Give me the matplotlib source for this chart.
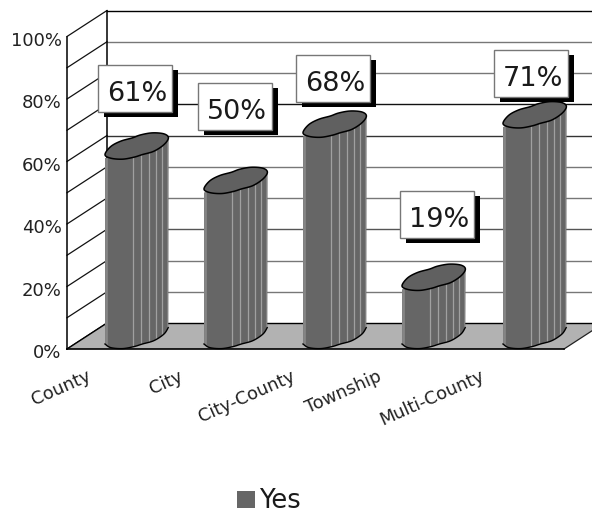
import numpy as np
import matplotlib
matplotlib.use("Agg")
import matplotlib.pyplot as plt
from matplotlib.patches import Polygon, Rectangle, Patch
from matplotlib.transforms import ScaledTranslation

plt.rcParams['font.family'] = ['DejaVu Sans']

categorias = ['County', 'City', 'City-County', 'Township', 'Multi-County']
valores = [61, 50, 68, 19, 71]
ticks_y = [0, 20, 40, 60, 80, 100]
serie = 'Yes'

# layout, x in pixels, y in percent
PX = 3.125          # pixels per percent
FONDO = 26 / PX     # depth of the floor and walls
X_FRENTE = 67
X_FONDO = 107
bar_left = [105, 204, 303, 402, 503]
bar_ancho = 64
box_x = [98, 198, 296, 400, 494]
box_top = [65, 83, 55, 191, 50]
label_x = [86, 178, 291, 377, 480]

# outline of the column section, relative to its left edge and level
SECCION_ABAJO = [(0, -2.3), (5.7, 1.3), (17.4, 2.3), (29, 0.3), (37.4, -2.3),
                 (49, -5.7), (59, -12.3), (63.4, -19)]
SECCION_ARRIBA = [(59, -23), (47.4, -24), (35.7, -22), (27.4, -19), (15.7, -15.7), (5.7, -10.3)]
RAYAS = [28.3, 36, 44, 51.3, 57.3]


def suavizar(puntos, cerrado=False, n=12):
    p = np.array(puntos, dtype=float)
    if cerrado:
        p = np.vstack([p[-1], p, p[0], p[1]])
    else:
        p = np.vstack([p[0], p, p[-1]])
    salida = []
    for i in range(1, len(p) - 2):
        for t in np.linspace(0, 1, n, endpoint=False):
            salida.append(0.5 * (2 * p[i] + (p[i + 1] - p[i - 1]) * t
                                 + (2 * p[i - 1] - 5 * p[i] + 4 * p[i + 1] - p[i + 2]) * t ** 2
                                 + (3 * p[i] - p[i - 1] - 3 * p[i + 1] + p[i + 2]) * t ** 3))
    return np.array(salida)


def a_datos(curva, x0, nivel, ajuste):
    # pixel offsets of a section to x pixels / y percent
    return np.column_stack([x0 + curva[:, 0], nivel - (curva[:, 1] + ajuste) / PX])


fig = plt.figure(figsize=(5.92, 5.14), dpi=100)
ax = fig.add_axes([0, 0, 1, 1])
ax.set_xlim(0, 592)
ax.set_ylim((349 - 514) / PX, 349 / PX)
ax.patch.set_visible(False)

# walls
colores_grid = {10: '#777777', 20: '#777777', 30: '#555555', 40: '#777777', 50: '#777777',
                60: '#333333', 70: '#111111', 80: '#777777', 90: '#777777', 100: '#000000'}
for v in range(0, 101, 10):
    ax.plot([X_FRENTE, X_FONDO], [v, v + FONDO], color='#111111', lw=0.9, zorder=1)
    if v > 0:
        ax.plot([X_FONDO, 592], [v + FONDO, v + FONDO], color=colores_grid[v], lw=1, zorder=1)
ax.plot([X_FONDO, X_FONDO], [FONDO, 100 + FONDO], color='black', lw=1.1, zorder=1)

# floor
ax.add_patch(Polygon([(X_FRENTE, 0), (X_FONDO, FONDO), (604, FONDO), (564, 0)],
                     facecolor='#b2b2b2', edgecolor='none', zorder=2))
ax.plot([X_FONDO, 604], [FONDO, FONDO], color='black', lw=1, zorder=2)
ax.plot([564, 604], [0, FONDO], color='#222222', lw=0.9, zorder=2)
ax.plot([X_FRENTE, X_FONDO], [0, FONDO], color='black', lw=1, zorder=2)

# columns
abajo = suavizar(SECCION_ABAJO)
seccion = suavizar(SECCION_ABAJO + SECCION_ARRIBA, cerrado=True)
for x0, v in zip(bar_left, valores):
    fondo = a_datos(abajo, x0, 0, -2.7)
    cuerpo = np.vstack([[(x0, v)], fondo, [(x0 + bar_ancho - 0.6, v + 19 / PX)]])
    parche = Polygon(cuerpo, facecolor='#666666', edgecolor='none', zorder=3)
    ax.add_patch(parche)
    for dx, color, ancho in [(1, '#858585', 2)] + [(r, '#a0a0a0', 0.9) for r in RAYAS] + [(62.5, '#858585', 2)]:
        raya, = ax.plot([x0 + dx, x0 + dx], [0, v + 10], color=color, lw=ancho, zorder=3.1)
        raya.set_clip_path(parche)
    ax.plot(fondo[:, 0], fondo[:, 1], color='black', lw=1, zorder=3.2)
    ax.add_patch(Polygon(a_datos(seccion, x0, v, -1.5), facecolor='#606060', edgecolor='black',
                         lw=1.1, zorder=3.3))

# value boxes
for x, top, v in zip(box_x, box_top, valores):
    y_top = (349 - top) / PX
    alto = 47 / PX
    ax.add_patch(Rectangle((x + 6, y_top - alto - 5 / PX), 74, alto, facecolor='black',
                           edgecolor='none', zorder=4))
    ax.add_patch(Rectangle((x, y_top - alto), 74, alto, facecolor='white', edgecolor='#777777',
                           lw=1, zorder=4.1))
    ax.text(x + 39, y_top - alto / 2 - 5 / PX, f'{v}%', fontsize=19.5, color='#1a1a1a',
            ha='center', va='center', zorder=4.2)

# axes
for lado in ['top', 'right']:
    ax.spines[lado].set_visible(False)
ax.spines['left'].set_position(('data', X_FRENTE))
ax.spines['left'].set_bounds(0, 100)
ax.spines['left'].set_linewidth(1.1)
ax.spines['left'].set_zorder(2.5)
ax.spines['bottom'].set_position(('data', 0))
ax.spines['bottom'].set_bounds(X_FRENTE, 564)
ax.spines['bottom'].set_linewidth(1.2)
ax.spines['bottom'].set_zorder(2.5)

ax.set_yticks(ticks_y)
ax.set_yticklabels([f'{v}%' for v in ticks_y], fontsize=13, color='#222222')
ax.tick_params(axis='y', length=0, pad=3.9)
bajar = ScaledTranslation(0, -2 / 100, fig.dpi_scale_trans)
for lab in ax.get_yticklabels():
    lab.set_transform(lab.get_transform() + bajar)

ax.set_xticks(label_x)
ax.set_xticklabels(categorias, fontsize=12.8, color='#222222', rotation=24, ha='right',
                   va='top', rotation_mode='anchor')
ax.tick_params(axis='x', length=0, pad=13)

ley = ax.legend(handles=[Patch(facecolor='#666666', edgecolor='none', label=serie)],
                loc='center', bbox_to_anchor=(269 / 592, (514 - 501.5) / 514), frameon=False,
                fontsize=18.5, handlelength=0.7, handleheight=0.6, handletextpad=0.18,
                labelcolor='#1a1a1a', borderpad=0)

fig.savefig('out.png', dpi=100)
